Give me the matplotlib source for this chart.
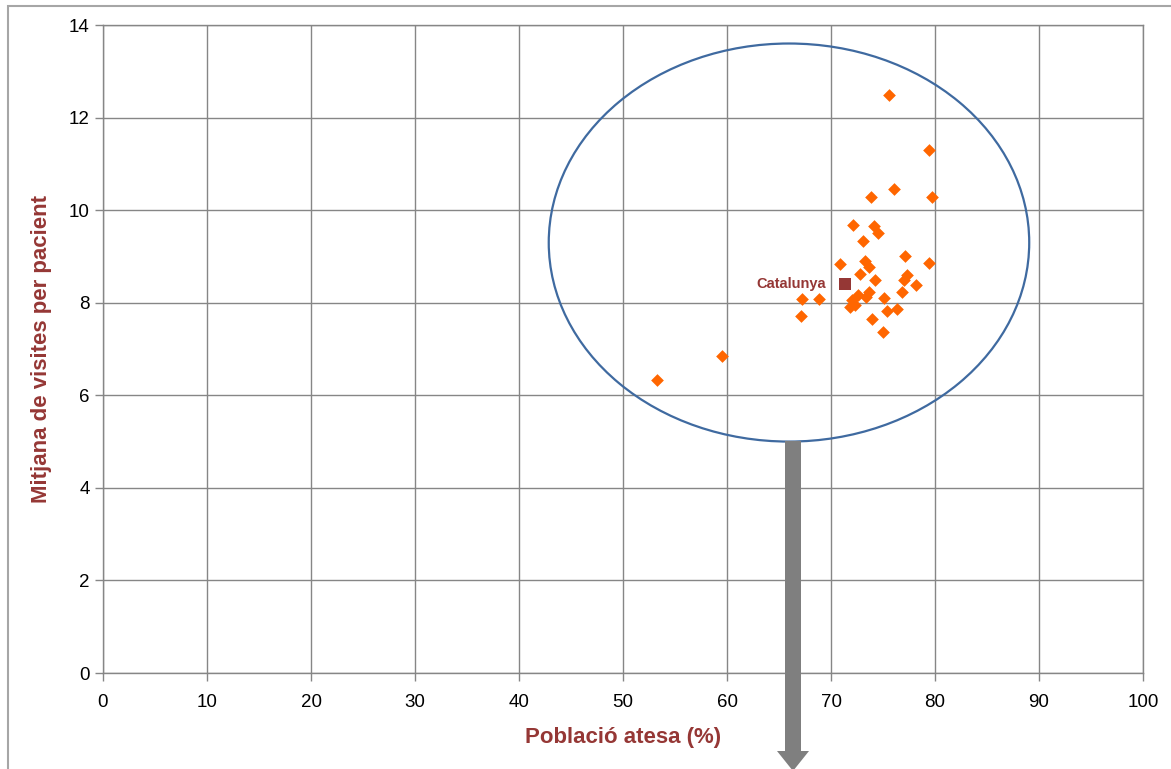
import matplotlib.pyplot as plt
from matplotlib.patches import Ellipse, Rectangle, FancyArrow

# Data
poblacio_atesa = [75.6, 79.4, 76.1, 73.8, 79.7, 72.1, 74.1, 74.5, 73.1, 77.1,
                  79.4, 70.9, 73.3, 73.7, 72.8, 77.3, 77.0, 74.2, 78.2, 76.8,
                  73.7, 72.6, 73.4, 75.1, 67.2, 68.8, 72.0, 72.3, 71.8, 75.4,
                  76.3, 67.1, 73.9, 75.0, 53.3, 59.5]
mitjana_visites = [12.48, 11.29, 10.46, 10.28, 10.28, 9.68, 9.65, 9.50, 9.33, 9.01,
                   8.86, 8.84, 8.91, 8.77, 8.63, 8.59, 8.48, 8.48, 8.39, 8.23,
                   8.24, 8.16, 8.12, 8.10, 8.09, 8.09, 8.05, 7.96, 7.90, 7.83,
                   7.87, 7.71, 7.65, 7.37, 6.32, 6.85]
catalunya_x = 71.3
catalunya_y = 8.40

plt.rcParams["font.family"] = ["Liberation Sans", "DejaVu Sans"]

fig = plt.figure(figsize=(11.71, 7.69), dpi=100)
ax = fig.add_axes([103 / 1171, 96 / 769, 1040 / 1171, 648 / 769])

# outer chart border
fig.patches.append(Rectangle((8 / 1171, -0.1), 1.2, 1.1 - 6 / 769,
                             transform=fig.transFigure, fill=False,
                             edgecolor="#a6a6a6", linewidth=1.5))

ax.scatter(poblacio_atesa, mitjana_visites, marker="D", s=42,
           color="#ff6600", zorder=3, linewidths=0)
ax.scatter([catalunya_x], [catalunya_y], marker="s", s=70,
           color="#953735", zorder=4, linewidths=0)
ax.annotate("Catalunya", (catalunya_x, catalunya_y), xytext=(-13, 0),
            textcoords="offset points", ha="right", va="center",
            fontsize=10.5, fontweight="bold", color="#953735")

# circle around the cluster
ax.add_patch(Ellipse((65.96, 9.3), 46.2, 8.6, fill=False,
                     edgecolor="#3f6aa0", linewidth=1.6, zorder=2))

ax.set_xlim(0, 100)
ax.set_ylim(0, 14)
ax.set_xticks(range(0, 101, 10))
ax.set_yticks(range(0, 15, 2))
ax.grid(True, color="#868686", linewidth=1)
ax.set_axisbelow(True)
for s in ax.spines.values():
    s.set_color("#868686")
    s.set_linewidth(1)
ax.tick_params(colors="#868686", labelcolor="black", labelsize=13.5,
               length=6, width=1)
ax.tick_params(axis="x", pad=9)

ax.set_xlabel("Població atesa (%)", fontsize=16, fontweight="bold",
              color="#953735", labelpad=12)
ax.set_ylabel("Mitjana de visites per pacient", fontsize=16,
              fontweight="bold", color="#953735", labelpad=12)

# grey arrow pointing down out of the circle
arrow = FancyArrow(793 / 1171, 1 - 441 / 769, 0, -(330 / 769),
                   width=16 / 1171, head_width=32 / 1171,
                   head_length=20 / 769, length_includes_head=True,
                   transform=fig.transFigure, color="#7f7f7f",
                   linewidth=0, zorder=5)
fig.patches.append(arrow)

fig.savefig("out.png", dpi=100)
